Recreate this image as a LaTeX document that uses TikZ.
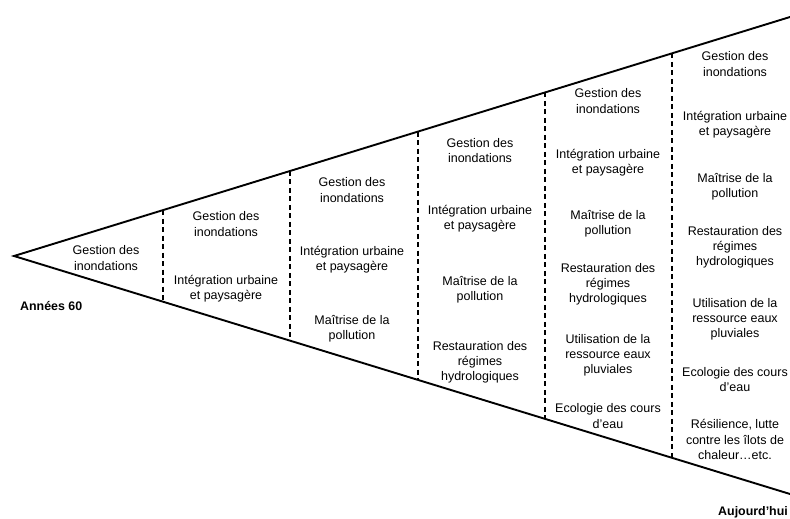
\documentclass[tikz,border=0pt]{standalone}
\usepackage{fontspec}
\setmainfont{Liberation Sans}
\usetikzlibrary{calc}
\tikzset{
  edge/.style={line width=1.9pt},
  divider/.style={line width=1.5pt, dash pattern=on 5pt off 3.5pt},
  item/.style={align=center, inner sep=0pt, font=\fontsize{12.5}{15.2}\selectfont},
  era/.style={inner sep=0pt, font=\bfseries\fontsize{12.4}{15}\selectfont}
}
\begin{document}
\begin{tikzpicture}[x=1pt,y=-1pt]
\useasboundingbox (0,0) rectangle (790,519);
\coordinate (apex) at (14,256);
\coordinate (topend) at (790,17);
\coordinate (botend) at (790,494);
\draw[edge] (topend) -- (apex) -- (botend);
\foreach \f/\n in {0.1920/d1,0.3557/d2,0.5206/d3,0.6843/d4,0.8479/d5}{
  \coordinate (\n t) at ($(apex)!\f!(topend)$);
  \coordinate (\n b) at ($(apex)!\f!(botend)$);
  \draw[divider] (\n t) -- (\n b);
}
% column 1
\node[item] (c1a) at (106,258) {Gestion des\\inondations};
% column 2
\node[item] (c2a) at (226,224) {Gestion des\\inondations};
\node[item] (c2b) at (226,289) {Intégration urbaine\\et paysagère};
% column 3
\node[item] (c3a) at (352,190) {Gestion des\\inondations};
\node[item] (c3b) at (352,259.5) {Intégration urbaine\\et paysagère};
\node[item] (c3c) at (352,329) {Maîtrise de la\\pollution};
% column 4
\node[item] (c4a) at (480,150.5) {Gestion des\\inondations};
\node[item] (c4b) at (480,219) {Intégration urbaine\\et paysagère};
\node[item] (c4c) at (480,290) {Maîtrise de la\\pollution};
\node[item] (c4d) at (480,362) {Restauration des\\régimes\\hydrologiques};
% column 5
\node[item] (c5a) at (608,101) {Gestion des\\inondations};
\node[item] (c5b) at (608,163) {Intégration urbaine\\et paysagère};
\node[item] (c5c) at (608,224) {Maîtrise de la\\pollution};
\node[item] (c5d) at (608,284) {Restauration des\\régimes\\hydrologiques};
\node[item] (c5e) at (608,355.5) {Utilisation de la\\ressource eaux\\pluviales};
\node[item] (c5f) at (608,416) {Ecologie des cours\\d’eau};
% column 6
\node[item] (c6a) at (735,64) {Gestion des\\inondations};
\node[item] (c6b) at (735,124.5) {Intégration urbaine\\et paysagère};
\node[item] (c6c) at (735,187) {Maîtrise de la\\pollution};
\node[item] (c6d) at (735,247) {Restauration des\\régimes\\hydrologiques};
\node[item] (c6e) at (735,319.5) {Utilisation de la\\ressource eaux\\pluviales};
\node[item] (c6f) at (735,379.5) {Ecologie des cours\\d’eau};
\node[item] (c6g) at (735,439.5) {Résilience, lutte\\contre les îlots de\\chaleur…etc.};
% era labels
\node[era, anchor=west] (start) at (20,306.5) {Années 60};
\node[era, anchor=east] (now) at (788,512.5) {Aujourd’hui};
\end{tikzpicture}
\end{document}
